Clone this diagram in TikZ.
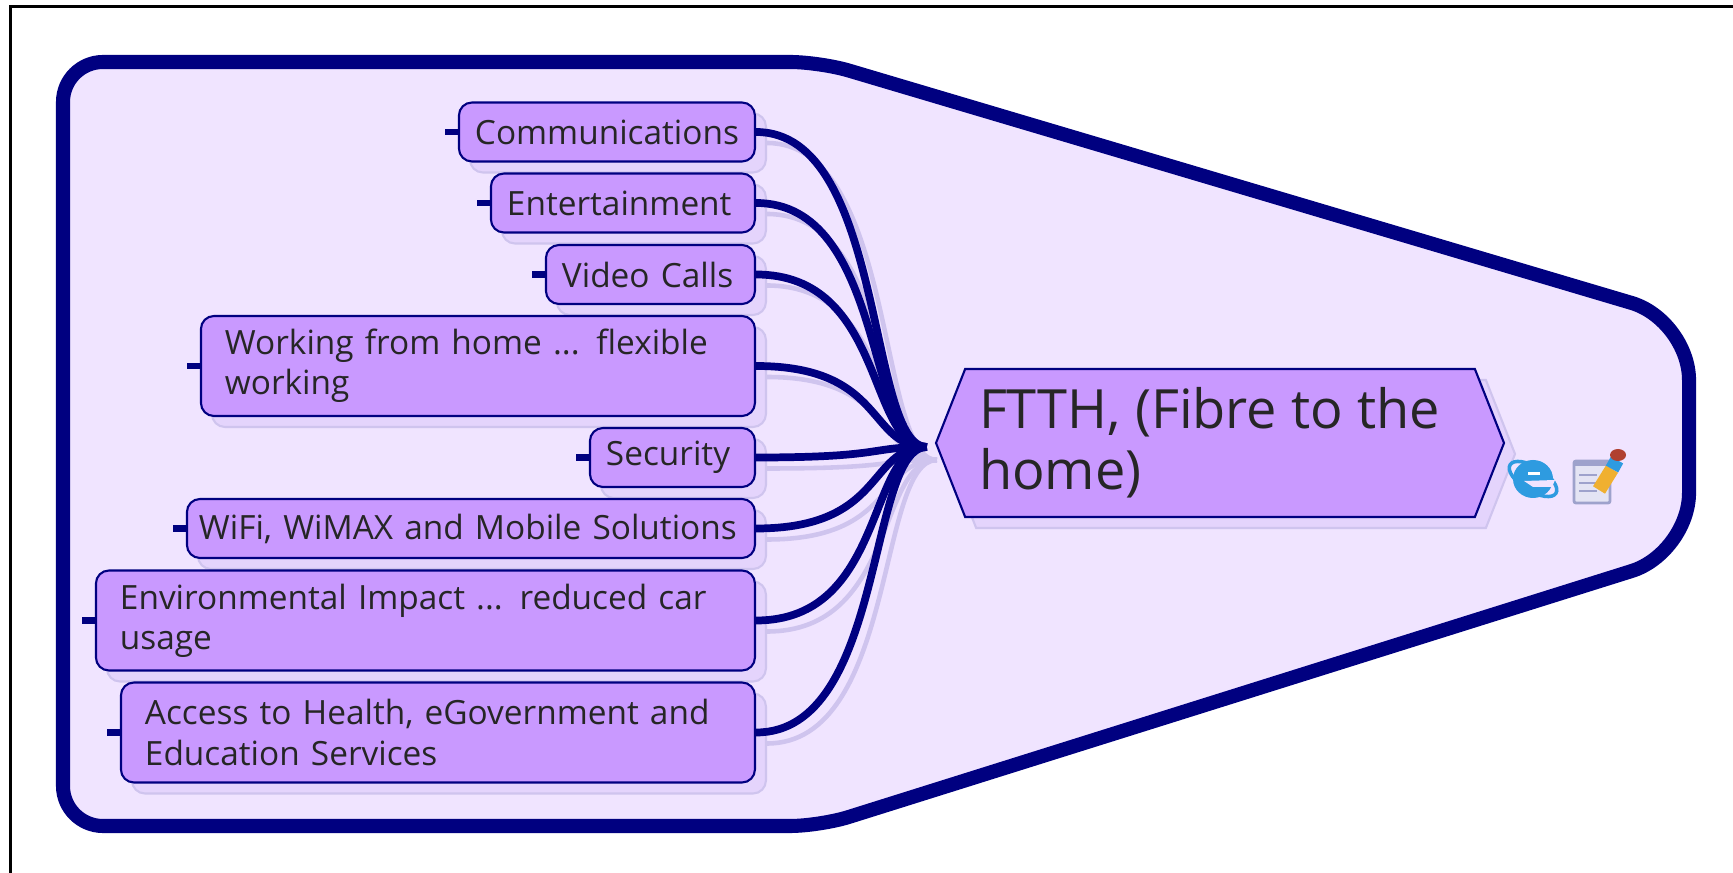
\documentclass[tikz,border=0pt]{standalone}
\usepackage{fontspec}
\setmainfont{Open Sans}
\usetikzlibrary{shapes.symbols,shadows}

\definecolor{mapline}{HTML}{000080}
\definecolor{mapfill}{HTML}{F0E4FF}
\definecolor{topicfill}{HTML}{C999FF}
\definecolor{shadefill}{HTML}{E4D4FC}
\definecolor{shadeline}{HTML}{CFC4EE}
\definecolor{iconblue}{HTML}{2E9BE0}
\definecolor{iconpage}{HTML}{E4E4F4}
\definecolor{iconedge}{HTML}{9EA2CC}
\definecolor{iconpen}{HTML}{F0B030}
\definecolor{iconcap}{HTML}{B04030}

\tikzset{
    topic/.style={draw=mapline, fill=topicfill, line width=0.6pt, rounded corners=0.13cm,
        anchor=east, align=left, inner ysep=0pt, text width=#1, text=black!85,
        font=\fontsize{9.5}{11.4}\selectfont,
        copy shadow={shadow xshift=0.11cm, shadow yshift=-0.11cm, fill=shadefill, draw=shadeline}},
    single/.style={topic=#1, minimum height=0.59cm, inner xsep=0.16cm},
    double/.style={topic=#1, minimum height=1.0cm, inner xsep=0.24cm},
    root/.style={draw=mapline, fill=topicfill, line width=0.6pt, signal, signal to=west and east,
        signal pointer angle=137, minimum width=5.68cm, minimum height=1.48cm, inner sep=0pt,
        align=left, text=black!85, font=\fontsize{15.4}{17.3}\selectfont,
        copy shadow={shadow xshift=0.11cm, shadow yshift=-0.11cm, fill=shadefill, draw=shadeline}},
    branch/.style={line width=2.2pt, mapline, out=0, in=180, out distance=1.3cm, in distance=0.6cm},
    branchshade/.style={line width=1.3pt, shadeline, out=0, in=180, out distance=1.3cm, in distance=0.6cm},
    stub/.style={line width=1.9pt, mapline},
}

\begin{document}
\begin{tikzpicture}[y=-1cm]

    \useasboundingbox (0,0) rectangle (17.33,8.73);

    % page edge
    \draw[line width=0.6pt] (0.105,8.73) -- (0.105,0.065) -- (17.33,0.065);

    % boundary
    \draw[mapline, fill=mapfill, line width=4pt, rounded corners=0.4cm]
        (0.63,0.62) [rounded corners=0.3cm] -- (8.2,0.62) [rounded corners=0.6cm] -- (16.89,3.2)
        -- (16.89,5.53) [rounded corners=0.3cm] -- (8.2,8.26) [rounded corners=0.4cm] -- (0.63,8.26) -- cycle;

    % topics
    \node[single=2.64cm] (comm) at (7.56,1.32) {Communications};
    \node[single=2.32cm] (ent) at (7.56,2.03) {Entertainment};
    \node[single=1.77cm] (video) at (7.56,2.745) {Video Calls};
    \node[double=5.06cm] (work) at (7.56,3.66) {Working from home ... flexible\\working};
    \node[single=1.33cm] (sec) at (7.56,4.575) {Security};
    \node[single=5.44cm, inner xsep=0.12cm] (wifi) at (7.56,5.285) {WiFi, WiMAX and Mobile Solutions};
    \node[double=6.11cm] (env) at (7.56,6.205) {Environmental Impact ... reduced car\\usage};
    \node[double=5.86cm] (acc) at (7.56,7.325) {Access to Health, eGovernment and\\Education Services};

    % centre
    \node[root] (ftth) at (12.2,4.43) {\parbox{4.82cm}{FTTH, (Fibre to the\\home)}};
    \coordinate (hub) at ([shift={(-0.08,0.04)}]ftth.west);

    % branches
    \foreach \t in {comm,ent,video,work,sec,wifi,env,acc}
        \draw[branchshade] ([shift={(0.11,0.11)}]\t.east) to ([shift={(0.1,0.13)}]hub);
    \foreach \t in {comm,ent,video,work,sec,wifi,env,acc}{
        \draw[branch] (\t.east) to (hub);
        \coordinate (\t-end) at ([xshift=-0.13cm]\t.west);
        \draw[stub] (\t.west) -- (\t-end);
    }

    % web icon
    \fill[iconblue] (15.33,4.79) ellipse (0.2 and 0.19);
    \draw[iconblue, line width=1pt, rotate around={-32:(15.33,4.79)}] (15.33,4.79) ellipse (0.27 and 0.12);
    \fill[white] (15.28,4.72) rectangle (15.4,4.75);
    \fill[mapfill] (15.24,4.81) -- (15.55,4.8) -- (15.52,4.87) -- (15.33,4.87) -- cycle;

    % note icon
    \draw[fill=iconpage, draw=iconedge, line width=0.8pt, rounded corners=0.02cm] (15.74,4.61) rectangle (16.1,5.03);
    \fill[iconedge] (15.74,4.61) rectangle (16.1,4.66);
    \foreach \y in {4.75,4.83,4.91}
        \draw[iconedge, line width=0.6pt] (15.79,\y) -- (15.97,\y);
    \draw[iconpen, line width=4pt] (15.99,4.9) -- (16.12,4.69);
    \draw[iconblue, line width=4pt] (16.12,4.69) -- (16.17,4.6);
    \fill[iconcap] (16.18,4.55) ellipse (0.08 and 0.06);

\end{tikzpicture}
\end{document}
